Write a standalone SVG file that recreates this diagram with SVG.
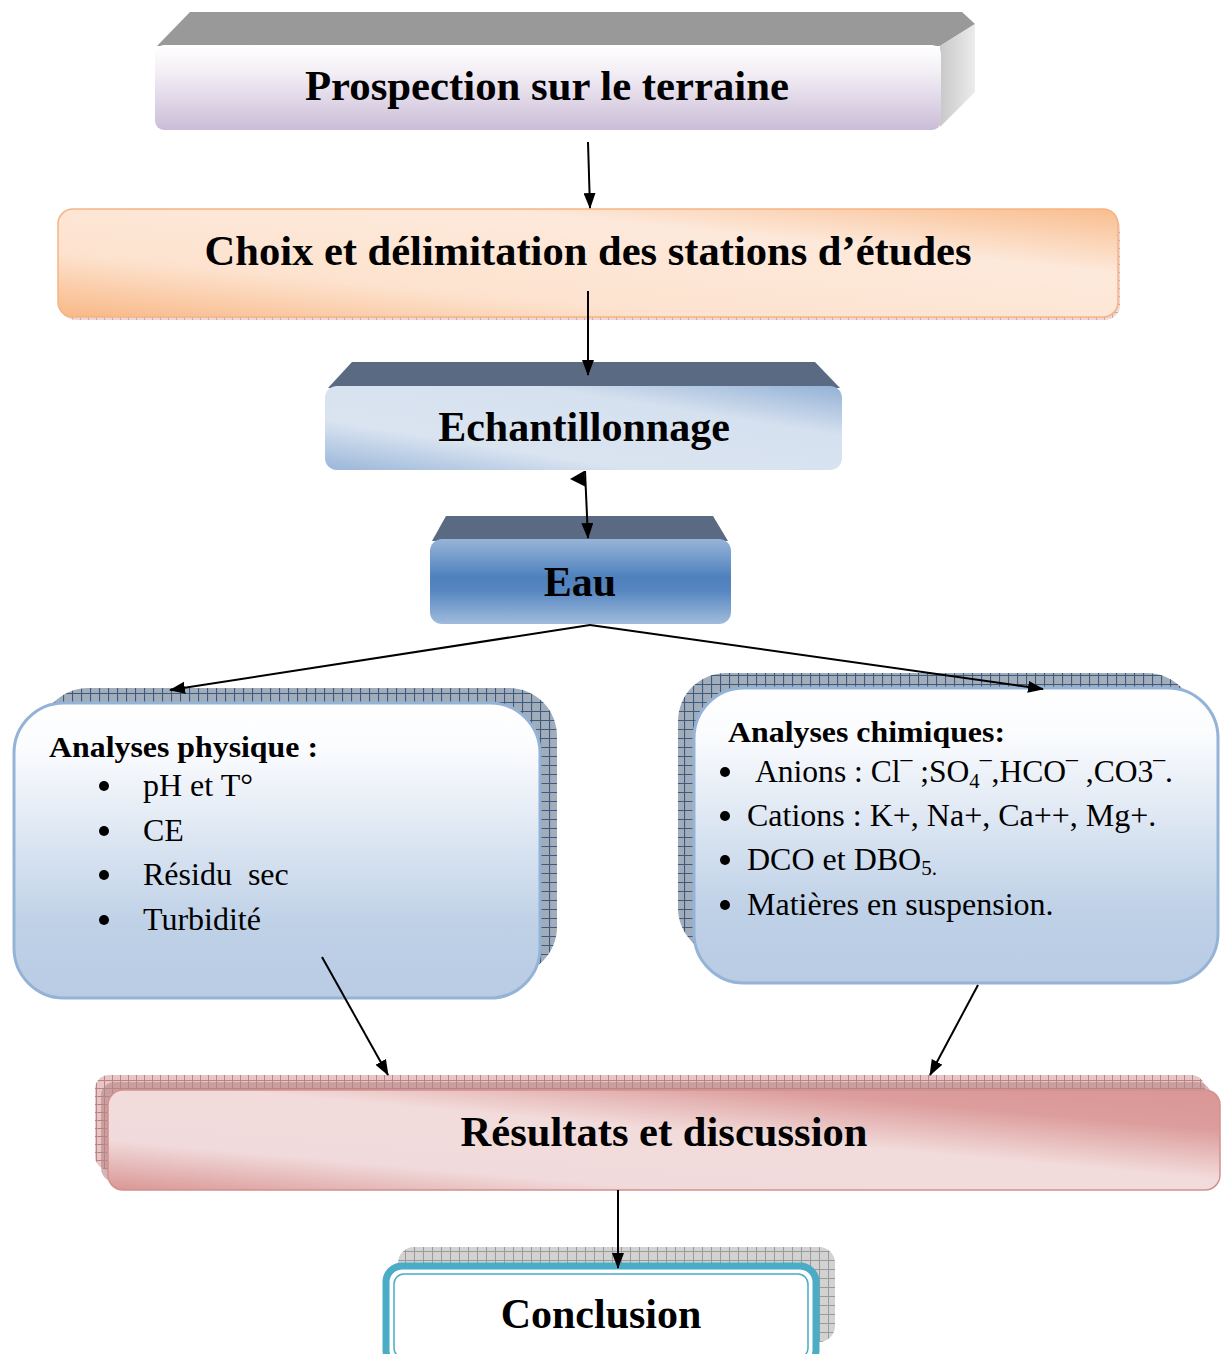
<svg xmlns="http://www.w3.org/2000/svg" width="1225" height="1354" viewBox="0 0 1225 1354">
<defs>
<style>
.t{font-family:"Liberation Serif","Times New Roman",serif;fill:#000}
.title{font-size:42px;font-weight:bold;text-anchor:middle}
.item{font-size:32px}
.hd{font-size:30px;font-weight:bold}
.ln{stroke:#000;stroke-width:2;fill:none}
.sup{font-size:24px}
</style>
<marker id="ah" viewBox="0 0 16 12" refX="15" refY="6" markerWidth="16" markerHeight="12" markerUnits="userSpaceOnUse" orient="auto">
<path d="M0,0 L16,6 L0,12 Z" fill="#000"/>
</marker>
<pattern id="pNavy" width="9" height="9" patternUnits="userSpaceOnUse">
<rect width="9" height="9" fill="#a2adbb"/>
<path d="M0,0.5H9M0.5,0V9" stroke="#3f5a7c" stroke-width="1.2"/>
</pattern>
<pattern id="pPink" width="8" height="8" patternUnits="userSpaceOnUse">
<rect width="8" height="8" fill="#e8c6c6"/>
<path d="M0,0.5H8M0.5,0V8" stroke="#b88484" stroke-width="1"/>
</pattern>
<pattern id="pGray" width="9" height="9" patternUnits="userSpaceOnUse">
<rect width="9" height="9" fill="#d2d2d2"/>
<path d="M0,0.5H9M0.5,0V9" stroke="#9a9a9a" stroke-width="1"/>
</pattern>
<linearGradient id="gProsp" x1="0" y1="0" x2="0" y2="1">
<stop offset="0" stop-color="#ffffff"/>
<stop offset="0.3" stop-color="#f4f0f6"/>
<stop offset="1" stop-color="#cbbdd8"/>
</linearGradient>
<linearGradient id="gSide" x1="0" y1="0" x2="1" y2="0">
<stop offset="0" stop-color="#c8c8c8"/>
<stop offset="1" stop-color="#ececec"/>
</linearGradient>
<linearGradient id="gOrange" x1="0" y1="1" x2="1" y2="0">
<stop offset="0" stop-color="#f8b887"/>
<stop offset="0.3" stop-color="#fde3cf"/>
<stop offset="0.7" stop-color="#fde9db"/>
<stop offset="1" stop-color="#f9bd8e"/>
</linearGradient>
<linearGradient id="gEch" x1="0" y1="1" x2="1" y2="0">
<stop offset="0" stop-color="#9ab6d9"/>
<stop offset="0.3" stop-color="#dae4f1"/>
<stop offset="0.7" stop-color="#d6e1ef"/>
<stop offset="1" stop-color="#93b1d6"/>
</linearGradient>
<linearGradient id="gEau" x1="0" y1="0" x2="0" y2="1">
<stop offset="0" stop-color="#97b4d8"/>
<stop offset="0.45" stop-color="#4f81bd"/>
<stop offset="0.6" stop-color="#5686c0"/>
<stop offset="1" stop-color="#a0bbdc"/>
</linearGradient>
<linearGradient id="gBox" x1="0" y1="0" x2="0" y2="1">
<stop offset="0" stop-color="#ffffff"/>
<stop offset="0.15" stop-color="#fbfcfe"/>
<stop offset="0.75" stop-color="#bfd1e7"/>
<stop offset="1" stop-color="#b9cce4"/>
</linearGradient>
<linearGradient id="gPink" x1="0" y1="1" x2="1" y2="0">
<stop offset="0" stop-color="#d99694"/>
<stop offset="0.25" stop-color="#f1dadb"/>
<stop offset="0.55" stop-color="#f2dcdb"/>
<stop offset="0.8" stop-color="#dc9d9c"/>
<stop offset="1" stop-color="#d99694"/>
</linearGradient>
</defs>

<rect width="1225" height="1354" fill="#ffffff"/>

<g id="node-prospection">
<polygon points="157,46 190,12 962,12 975,24 940,46" fill="#999999"/>
<polygon points="940,46 975,24 975,92 940,127" fill="url(#gSide)"/>
<rect x="155" y="45" width="786" height="85" rx="9" fill="url(#gProsp)"/>
<text class="t title" x="547" y="100" textLength="484" lengthAdjust="spacingAndGlyphs">Prospection sur le terraine</text>
</g>

<g id="node-choix">
<rect x="60" y="214" width="1060" height="106" rx="15" fill="url(#pPink)" opacity="0.7"/>
<rect x="58" y="209" width="1060" height="108" rx="15" fill="url(#gOrange)" stroke="#f6b483" stroke-width="1.5"/>
<text class="t title" x="588" y="265" font-size="41" textLength="767" lengthAdjust="spacingAndGlyphs">Choix et délimitation des stations d’études</text>
</g>

<g id="node-echantillonnage">
<polygon points="328,388 352,362 815,362 840,388" fill="#5a6a82"/>
<rect x="325" y="386" width="517" height="84" rx="12" fill="url(#gEch)"/>
<text class="t title" x="584" y="441">Echantillonnage</text>
</g>

<g id="node-eau">
<polygon points="432,541 446,516 713,516 728,541" fill="#5a6a82"/>
<rect x="430" y="539" width="301" height="85" rx="12" fill="url(#gEau)"/>
<text class="t title" x="580" y="596">Eau</text>
</g>

<g id="node-physique">
<rect x="40" y="688" width="517" height="287" rx="48" fill="url(#pNavy)"/>
<rect x="14" y="703" width="526" height="295" rx="50" fill="url(#gBox)" stroke="#95b3d7" stroke-width="3"/>
<text class="t hd" x="49" y="757" textLength="269" lengthAdjust="spacingAndGlyphs">Analyses physique :</text>
<g class="t item">
<circle cx="104" cy="786" r="5"/><text x="143" y="796">pH et T°</text>
<circle cx="104" cy="831" r="5"/><text x="143" y="841">CE</text>
<circle cx="104" cy="875" r="5"/><text x="143" y="885" xml:space="preserve">Résidu  sec</text>
<circle cx="104" cy="920" r="5"/><text x="143" y="930">Turbidité</text>
</g>
</g>

<g id="node-chimiques">
<rect x="678" y="673" width="517" height="283" rx="48" fill="url(#pNavy)"/>
<rect x="694" y="688" width="524" height="295" rx="50" fill="url(#gBox)" stroke="#95b3d7" stroke-width="3"/>
<text class="t hd" x="728" y="742" textLength="277" lengthAdjust="spacingAndGlyphs">Analyses chimiques:</text>
<g class="t item">
<circle cx="725" cy="772" r="5"/>
<text x="755" y="782" textLength="418" lengthAdjust="spacingAndGlyphs">Anions : Cl<tspan class="sup" dy="-4">¯</tspan><tspan dy="4"> ;SO</tspan><tspan font-size="21" dy="6">4</tspan><tspan class="sup" dy="-10">¯</tspan><tspan dy="4">,HCO</tspan><tspan class="sup" dy="-4">¯</tspan><tspan dy="4"> ,CO3</tspan><tspan class="sup" dy="-4">¯</tspan><tspan dy="4">.</tspan></text>
<circle cx="725" cy="816" r="5"/><text x="747" y="826">Cations : K+, Na+, Ca++, Mg+.</text>
<circle cx="725" cy="860" r="5"/><text x="747" y="870">DCO et DBO<tspan font-size="21" dy="5">5.</tspan></text>
<circle cx="725" cy="905" r="5"/><text x="747" y="915">Matières en suspension.</text>
</g>
</g>

<g id="node-resultats">
<rect x="95" y="1075" width="1110" height="95" rx="14" fill="url(#pPink)"/>
<rect x="101" y="1082" width="1110" height="100" rx="14" fill="#b58585" opacity="0.6"/>
<rect x="108" y="1090" width="1112" height="100" rx="15" fill="url(#gPink)" stroke="#d4908f" stroke-width="1.5"/>
<text class="t title" x="664" y="1146" textLength="407" lengthAdjust="spacingAndGlyphs">Résultats et discussion</text>
</g>

<g id="node-conclusion">
<rect x="398" y="1247" width="437" height="95" rx="16" fill="url(#pGray)"/>
<rect x="386" y="1266" width="430" height="100" rx="16" fill="#ffffff" stroke="#4bacc6" stroke-width="7"/>
<rect x="394" y="1274" width="414" height="84" rx="10" fill="none" stroke="#4bacc6" stroke-width="1.5"/>
<text class="t title" x="601" y="1328">Conclusion</text>
</g>

<g id="connectors">
<line class="ln" x1="588" y1="142" x2="590" y2="208" marker-end="url(#ah)"/>
<line class="ln" x1="588" y1="291" x2="588" y2="375" marker-end="url(#ah)"/>
<line class="ln" x1="585" y1="471" x2="588" y2="538" marker-end="url(#ah)"/>
<polygon points="570,479 584,471 586,487" fill="#000"/>
<line class="ln" x1="590" y1="625" x2="170" y2="690" marker-end="url(#ah)"/>
<line class="ln" x1="590" y1="625" x2="1043" y2="689" marker-end="url(#ah)"/>
<line class="ln" x1="322" y1="957" x2="388" y2="1075" marker-end="url(#ah)"/>
<line class="ln" x1="978" y1="985" x2="930" y2="1075" marker-end="url(#ah)"/>
<line class="ln" x1="618" y1="1190" x2="618" y2="1268" marker-end="url(#ah)"/>
</g>
</svg>
